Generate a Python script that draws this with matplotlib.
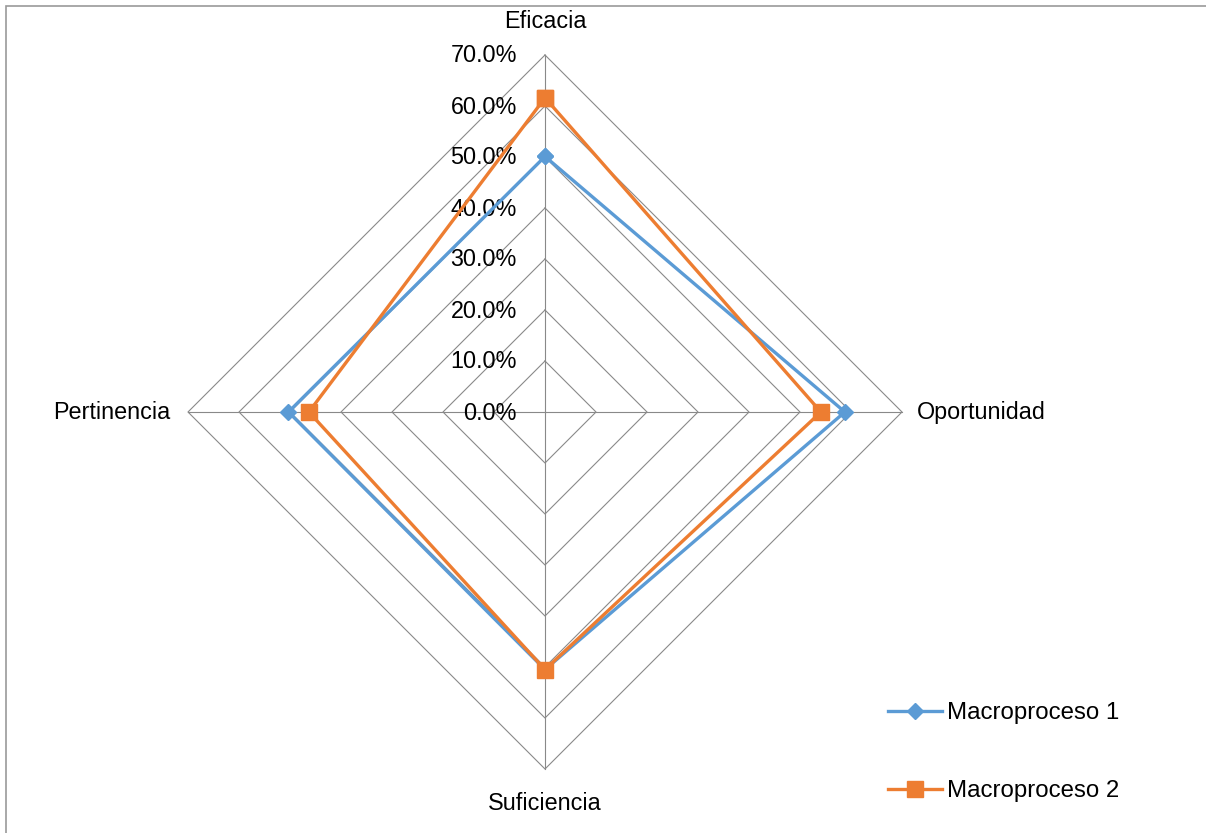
import numpy as np
import matplotlib
matplotlib.use("Agg")
import matplotlib.pyplot as plt
from matplotlib.patches import Rectangle
from matplotlib.lines import Line2D

plt.rcParams['font.family'] = ['Liberation Sans', 'DejaVu Sans']

categories = ["Eficacia", "Oportunidad", "Suficiencia", "Pertinencia"]
series_names = ["Macroproceso 1", "Macroproceso 2"]
macro1 = [0.501, 0.588, 0.505, 0.503]
macro2 = [0.616, 0.541, 0.505, 0.463]
ring_values = [0.0, 0.1, 0.2, 0.3, 0.4, 0.5, 0.6, 0.7]
ring_labels = ["0.0%", "10.0%", "20.0%", "30.0%", "40.0%", "50.0%", "60.0%", "70.0%"]

BLUE = "#5B9BD5"
ORANGE = "#ED7D31"
GRID = "#898989"
FS = 16.8

W, H = 1206, 833
fig = plt.figure(figsize=(W / 100, H / 100), dpi=100)
fig.patch.set_facecolor("white")

cx, cy, R = 545, 833 - 412, 357
ax = fig.add_axes([(cx - R) / W, (cy - R) / H, 2 * R / W, 2 * R / H], projection="polar")
ax.set_theta_offset(np.pi / 2)
ax.set_theta_direction(-1)
ax.set_ylim(0, 0.7)
ax.set_axis_off()

n = len(categories)
theta = np.arange(n) * 2 * np.pi / n
theta_c = np.append(theta, theta[0])

# rings
for v in ring_values[1:]:
    ax.plot(theta_c, [v] * (n + 1), color=GRID, lw=0.8, zorder=1, clip_on=False)
# spokes
for t in theta:
    ax.plot([t, t], [0, ring_values[-1]], color=GRID, lw=0.8, zorder=1, clip_on=False)

# radial tick labels
for v, lab in zip(ring_values, ring_labels):
    ax.annotate(lab, xy=(0, v), xytext=(-28, -1), textcoords="offset pixels",
                ha="right", va="center", fontsize=FS, color="black", annotation_clip=False)

# category labels
offsets = [(0, 34, "center", "center"), (15, 0, "left", "center"),
           (0, -34, "center", "center"), (-18, 0, "right", "center")]
for t, lab, (dx, dy, ha, va) in zip(theta, categories, offsets):
    ax.annotate(lab, xy=(t, ring_values[-1]), xytext=(dx, dy), textcoords="offset pixels",
                ha=ha, va=va, fontsize=FS, color="black", annotation_clip=False)

# series
m1 = np.append(macro1, macro1[0])
m2 = np.append(macro2, macro2[0])
ax.plot(theta_c, m1, color=BLUE, lw=2.4, marker="D", ms=8, mfc=BLUE, mec=BLUE,
        zorder=3, clip_on=False, label=series_names[0])
ax.plot(theta_c, m2, color=ORANGE, lw=2.4, marker="s", ms=11.5, mfc=ORANGE, mec=ORANGE,
        zorder=4, clip_on=False, label=series_names[1])

handles = [Line2D([], [], color=BLUE, lw=2.4, marker="D", ms=8),
           Line2D([], [], color=ORANGE, lw=2.4, marker="s", ms=11.5)]
fig.legend(handles, series_names, loc="upper left",
           bbox_to_anchor=(888 / W, 1 - 702 / H), frameon=False, fontsize=17.3,
           borderpad=0, borderaxespad=0, handlelength=2.25, handletextpad=0.2,
           labelspacing=2.35)

fig.add_artist(Rectangle((6 / W, -0.02), 1.1, 1 - 6 / H + 0.02, transform=fig.transFigure,
                         fill=False, ec="#9a9a9a", lw=1.2))

fig.savefig("out.png", dpi=100, facecolor="white")
